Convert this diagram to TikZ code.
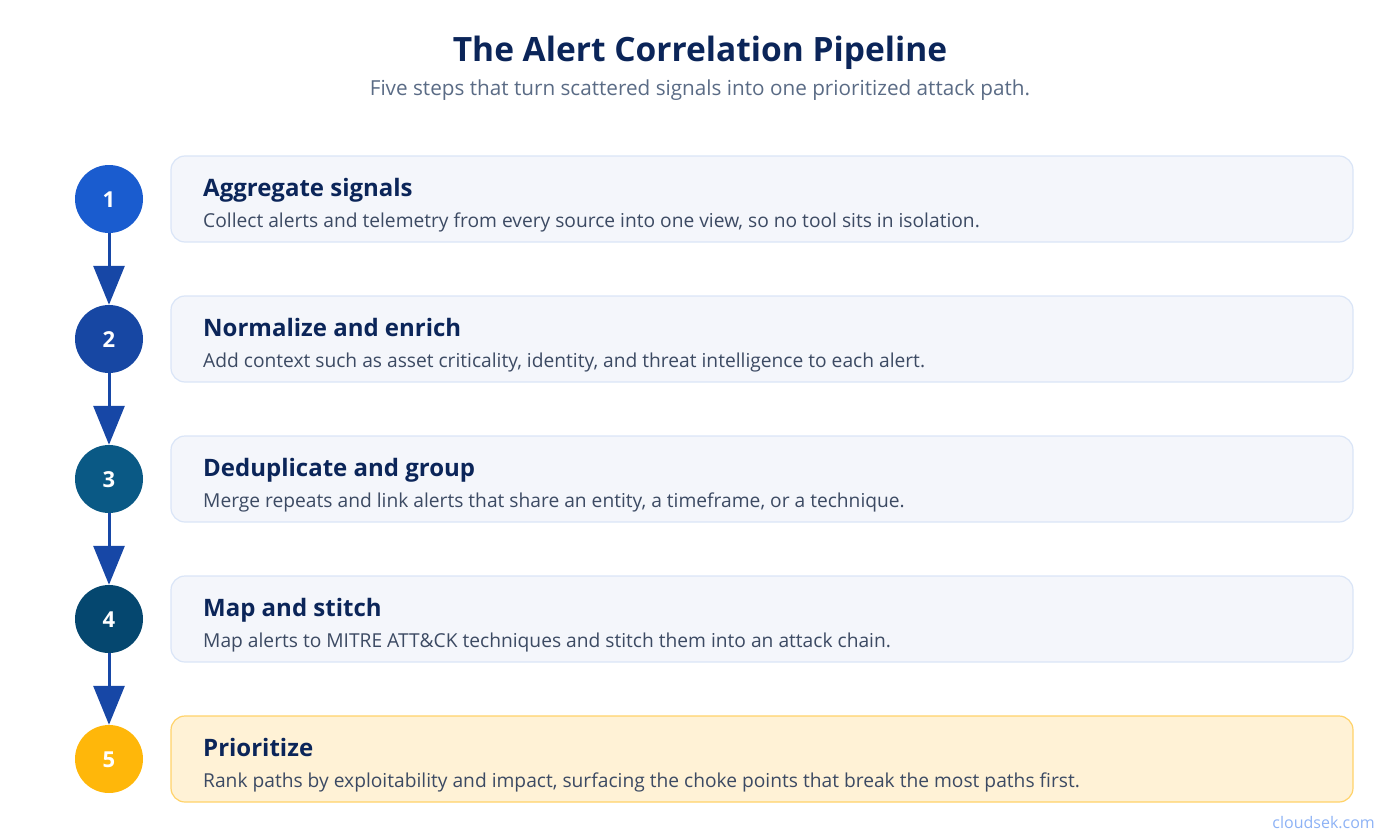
\documentclass[tikz,border=0pt]{standalone}
\usepackage{fontspec}
\setmainfont{Open Sans}
\usetikzlibrary{arrows.meta}
\definecolor{navy}{HTML}{0B2559}
\definecolor{subgray}{HTML}{5A6B85}
\definecolor{desc}{HTML}{3C4A63}
\definecolor{cA}{HTML}{1A5CCF}
\definecolor{cB}{HTML}{1747A3}
\definecolor{cC}{HTML}{0A5985}
\definecolor{cD}{HTML}{05476F}
\definecolor{cE}{HTML}{FFB70A}
\definecolor{arr}{HTML}{1747A6}
\definecolor{boxfill}{HTML}{F4F6FB}
\definecolor{boxline}{HTML}{DAE5F7}
\definecolor{hlfill}{HTML}{FFF2D6}
\definecolor{hlline}{HTML}{FFD36A}
\definecolor{brand}{HTML}{8DB2F5}
\tikzset{
  x=1pt,y=-1pt,
  stepcircle/.style={circle,minimum size=68pt,inner sep=0pt},
  stepnum/.style={anchor=base,text=white,font=\fontsize{22}{22}\selectfont\bfseries,inner sep=0pt},
  stepbox/.style={draw=boxline,fill=boxfill,line width=1.2pt,rounded corners=14pt,minimum width=1182pt,minimum height=86pt,inner sep=0pt},
  hlbox/.style={stepbox,draw=hlline,fill=hlfill},
  steptitle/.style={anchor=base west,text=navy,font=\fontsize{24}{24}\selectfont\bfseries,inner sep=0pt},
  stepdesc/.style={anchor=base west,text=desc,font=\fontsize{19.2}{19.2}\selectfont,inner sep=0pt},
  flow/.style={draw=arr,line width=3pt,-{Triangle[length=39pt,width=31pt]}}
}
\begin{document}
\begin{tikzpicture}
\useasboundingbox (0,0) rectangle (1400,840);
\node[anchor=base,text=navy,font=\fontsize{33.5}{33.5}\selectfont\bfseries,inner sep=0pt] (title) at (700,62) {The Alert Correlation Pipeline};
\node[anchor=base,text=subgray,font=\fontsize{20.7}{20.7}\selectfont,inner sep=0pt] (sub) at (700,96) {Five steps that turn scattered signals into one prioritized attack path.};
\foreach \i/\c/\t/\d in {
 1/cA/{Aggregate signals}/{Collect alerts and telemetry from every source into one view, so no tool sits in isolation.},
 2/cB/{Normalize and enrich}/{Add context such as asset criticality, identity, and threat intelligence to each alert.},
 3/cC/{Deduplicate and group}/{Merge repeats and link alerts that share an entity, a timeframe, or a technique.},
 4/cD/{Map and stitch}/{Map alerts to MITRE ATT\&CK techniques and stitch them into an attack chain.}}{
  \pgfmathsetmacro{\yy}{199+140*(\i-1)}
  \node[stepbox] (b\i) at (762,\yy) {};
  \node[stepcircle,fill=\c] (c\i) at (109,\yy) {};
  \node[stepnum] (n\i) at (109,\yy+8) {\i};
  \node[steptitle] (t\i) at (203,\yy-3) {\t};
  \node[stepdesc] (d\i) at (203,\yy+28) {\d};
}
\node[hlbox] (b5) at (762,759) {};
\node[stepcircle,fill=cE] (c5) at (109,759) {};
\node[stepnum] (n5) at (109,767) {5};
\node[steptitle] (t5) at (203,756) {Prioritize};
\node[stepdesc] (d5) at (203,787) {Rank paths by exploitability and impact, surfacing the choke points that break the most paths first.};
\foreach \a/\b in {1/2,2/3,3/4,4/5}{
  \draw[flow] (c\a.south) -- (c\b.north);
}
\node[anchor=base east,text=brand,font=\fontsize{16}{16}\selectfont,inner sep=0pt] (brand) at (1375,828) {cloudsek.com};
\end{tikzpicture}
\end{document}
